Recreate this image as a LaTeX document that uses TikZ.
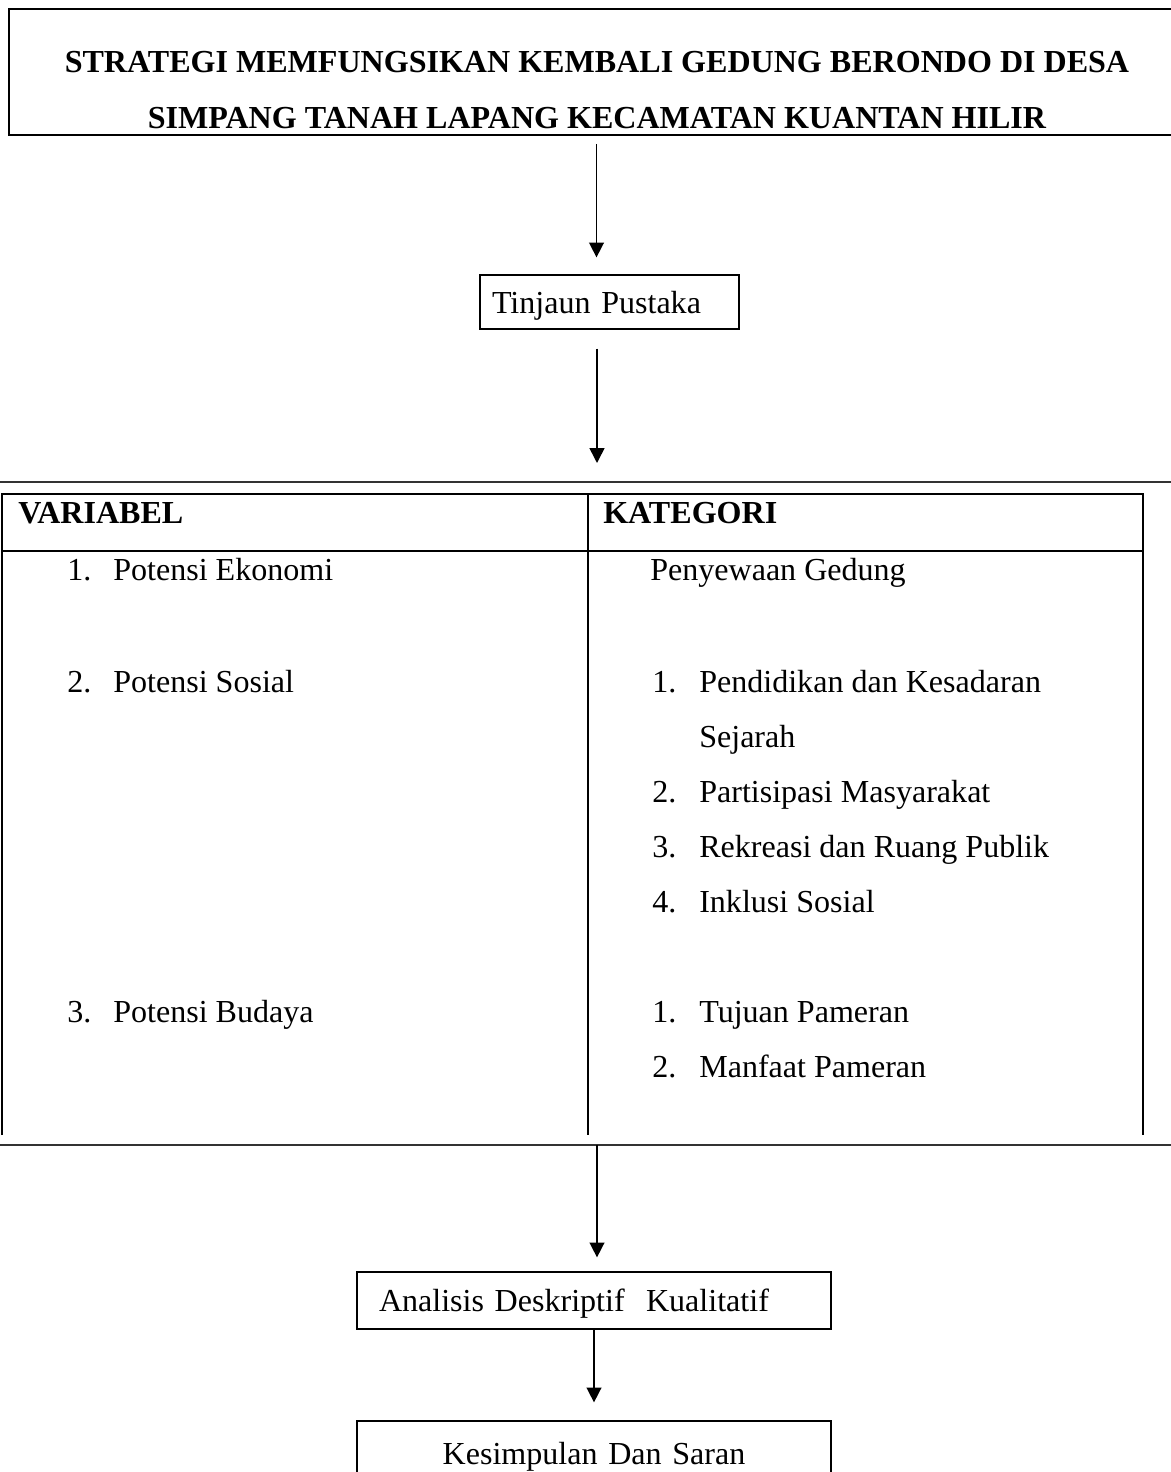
\documentclass[tikz,border=0pt]{standalone}
\usepackage{fontspec}
\setmainfont{Liberation Serif}
\usepackage{tikz}
\usetikzlibrary{arrows.meta, positioning, calc}
\newcommand{\ukuran}{\fontsize{22.8}{27}\selectfont}
\tikzset{
  judulbox/.style={draw, line width=1.2pt, inner sep=0pt},
  judultxt/.style={font=\ukuran\bfseries, anchor=base, inner sep=0pt},
  kotak/.style={draw, line width=0.9pt, font=\ukuran, inner ysep=0pt,
                text height=0.55cm, text depth=0cm},
  sel/.style={font=\ukuran, anchor=base west, inner sep=0pt},
  tabel/.style={line width=1.4pt},
  garis/.style={line width=1.1pt, black!80},
  arr/.style={-{Triangle[length=0.37cm, width=0.37cm]}, line width=1.1pt},
}

\begin{document}
\begin{tikzpicture}
  \useasboundingbox (0,0) rectangle (29.275,-36.8);

  %% Judul
  \node[judulbox, minimum width=29.375cm, minimum height=3.15cm] (judul) at (14.9125,-1.8) {};
  \node[judultxt] (judulA) at (14.925,-1.8) {STRATEGI MEMFUNGSIKAN KEMBALI GEDUNG BERONDO DI DESA};
  \node[judultxt] (judulB) at (14.925,-3.2) {SIMPANG TANAH LAPANG KECAMATAN KUANTAN HILIR};

  %% Tinjauan pustaka
  \node[kotak, minimum height=1.35cm, inner xsep=0.3cm, text width=5.875cm, align=left]
    (tinjau) at (15.2375,-7.55) {Tinjaun Pustaka};

  \draw[arr, shorten <=0.2cm, shorten >=0.425cm] (judul.south) -- (judul.south |- tinjau.north);

  %% Garis pembatas tabel
  \coordinate (garisA) at (14.925,-12.05);
  \coordinate (garisB) at (14.925,-28.625);
  \draw[garis] (-0.1,-12.05) -- (29.4,-12.05);
  \draw[garis] (-0.1,-28.625) -- (29.4,-28.625);

  \draw[arr, shorten <=0.475cm, shorten >=0.475cm] (tinjau.south -| garisA) -- (garisA);

  %% Tabel variabel / kategori
  \draw[tabel] (0.05,-28.375) -- (0.05,-12.35) -- (28.575,-12.35) -- (28.575,-28.375);
  \draw[tabel] (0.05,-13.775) -- (28.575,-13.775);
  \draw[tabel] (14.7,-12.35) -- (14.7,-28.375);

  \node[sel, font=\ukuran\bfseries] (var) at (0.45,-13.075) {VARIABEL};
  \node[sel, font=\ukuran\bfseries] (kat) at (15.075,-13.075) {KATEGORI};

  % kolom variabel
  \foreach \n/\y/\t in {1/-14.5/Potensi Ekonomi, 2/-17.3/Potensi Sosial, 3/-25.55/Potensi Budaya}{
    \node[sel] (varno-\n) at (1.675,\y) {\n.};
    \node[sel] (var-\n) at (2.825,\y) {\t};
  }

  % kolom kategori
  \node[sel] (sewa) at (16.25,-14.5) {Penyewaan Gedung};
  \foreach \k/\n/\y/\t in {a/1/-17.3/Pendidikan dan Kesadaran, b/2/-20.05/Partisipasi Masyarakat,
                           c/3/-21.425/Rekreasi dan Ruang Publik, d/4/-22.8/Inklusi Sosial,
                           e/1/-25.55/Tujuan Pameran, f/2/-26.925/Manfaat Pameran}{
    \node[sel] (katno-\k) at (16.3,\y) {\n.};
    \node[sel] (kat-\k) at (17.475,\y) {\t};
  }
  \node[sel] (kat-a2) at (17.475,-18.675) {Sejarah};

  %% Analisis dan kesimpulan
  \node[kotak, minimum height=1.425cm, inner xsep=0.55cm, text width=10.75cm, align=left]
    (analisis) at (14.85,-32.5125) {Analisis Deskriptif\ \ Kualitatif};
  \node[kotak, minimum height=1.6cm, inner xsep=0.55cm, text width=10.75cm, align=center]
    (simpul) at (14.85,-36.325) {Kesimpulan Dan Saran};

  \draw[arr, shorten >=0.35cm] (garisB) -- (garisB |- analisis.north);
  \draw[arr, shorten >=0.45cm] (analisis.south) -- (simpul.north);

\end{tikzpicture}
\end{document}
